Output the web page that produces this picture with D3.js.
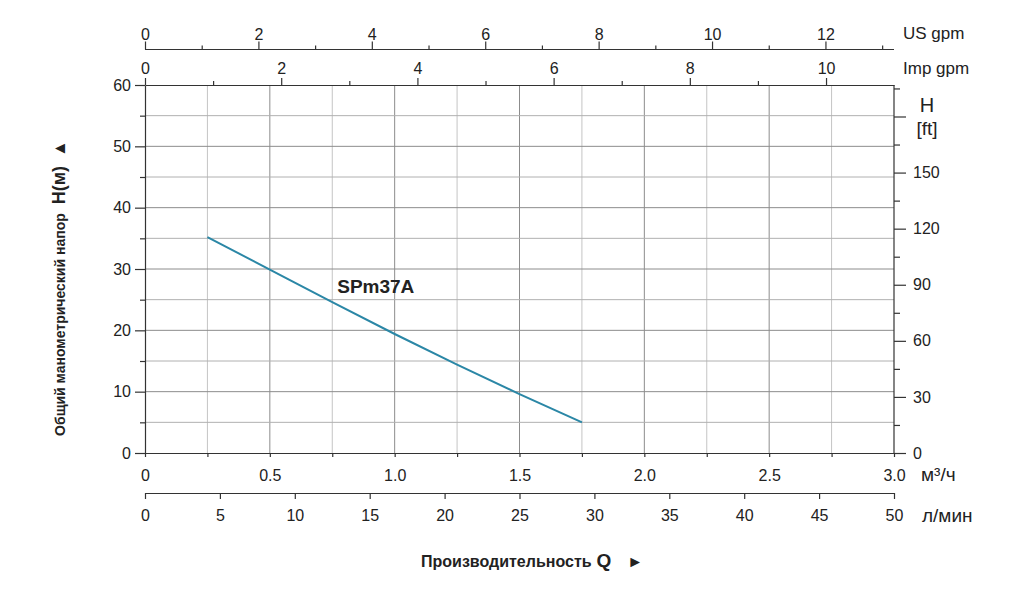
<!DOCTYPE html>
<html>

<head>
  <meta charset="utf-8">
  <script src="https://d3js.org/d3.v7.min.js"></script>
  <style>
    body { margin: 0; background: #fff; }
    text { font-family: "Liberation Sans", Arial, sans-serif; fill: #222; }
  </style>
</head>

<body>
  <svg id="curve" width="1024" height="595"></svg>
  <script>
    // pump curve SPm37A
    const flowM3h = [0.25, 0.5, 0.75, 1.0, 1.25, 1.5, 1.75];
    const headM = [35.2, 29.9, 24.6, 19.4, 14.4, 9.6, 5.0];

    // tick values / labels
    const m3hTicks = [0, 0.5, 1.0, 1.5, 2.0, 2.5, 3.0];
    const m3hLabels = ["0", "0.5", "1.0", "1.5", "2.0", "2.5", "3.0"];
    const m3hMinor = [0.25, 0.75, 1.25, 1.75, 2.25, 2.75];
    const lminTicks = [0, 5, 10, 15, 20, 25, 30, 35, 40, 45, 50];
    const usGpmTicks = [0, 2, 4, 6, 8, 10, 12];
    const usGpmMinor = [1, 3, 5, 7, 9, 11, 13];
    const impGpmTicks = [0, 2, 4, 6, 8, 10];
    const impGpmMinor = [1, 3, 5, 7, 9];
    const headTicks = [0, 10, 20, 30, 40, 50, 60];
    const headMinor = [5, 15, 25, 35, 45, 55];
    const ftTicks = [0, 30, 60, 90, 120, 150, 180];
    const ftLabels = ["0", "30", "60", "90", "120", "150", ""];
    const ftMinor = [15, 45, 75, 105, 135, 165, 195];

    const svg = d3.select('svg#curve');
    const plotLeft = 145, plotRight = 894, plotTop = 85, plotBottom = 453;
    const fontSize = 16;

    const x = d3.scaleLinear().domain([0, 3]).range([plotLeft, plotRight]);
    const y = d3.scaleLinear().domain([0, 60]).range([plotBottom, plotTop]);
    const xLmin = d3.scaleLinear().domain([0, 50]).range([plotLeft, plotRight]);
    const xUS = d3.scaleLinear().domain([0, 3 * 4.403]).range([plotLeft, plotRight]);
    const xImp = d3.scaleLinear().domain([0, 3 * 3.666]).range([plotLeft, plotRight]);
    const yFt = d3.scaleLinear().domain([0, 60 * 3.2808]).range([plotBottom, plotTop]);

    //gridlines
    const grid = svg.append('g');
    grid.selectAll('line.v').data(m3hTicks.concat(m3hMinor).filter(d => d > 0 && d < 3))
      .join('line')
      .attr('x1', d => x(d)).attr('x2', d => x(d))
      .attr('y1', plotTop).attr('y2', plotBottom)
      .attr('stroke', d => (d * 2) % 1 === 0 ? '#8c8c8c' : '#c4c4c4')
      .attr('stroke-width', 1);
    grid.selectAll('line.h').data(headTicks.concat(headMinor).filter(d => d > 0 && d < 60))
      .join('line')
      .attr('x1', plotLeft).attr('x2', plotRight)
      .attr('y1', d => y(d)).attr('y2', d => y(d))
      .attr('stroke', d => d % 10 === 0 ? '#8c8c8c' : '#b0b0b0')
      .attr('stroke-width', 1);

    function styleAxis(g) {
      g.select('.domain').attr('stroke', '#333').attr('stroke-width', 1.2);
      g.selectAll('.tick line').attr('stroke', '#333').attr('stroke-width', 1.2);
      g.selectAll('.tick text')
        .style('font-family', '"Liberation Sans", Arial, sans-serif')
        .style('font-size', fontSize + 'px').attr('fill', '#222');
    }

    // bottom m3/h axis (plot bottom)
    const m3hAxis = d3.axisBottom(x)
      .tickValues(m3hTicks.concat(m3hMinor))
      .tickSize(4).tickSizeOuter(0)
      .tickFormat(d => { const i = m3hTicks.indexOf(d); return i < 0 ? "" : m3hLabels[i]; });
    svg.append('g').attr('transform', `translate(0,${plotBottom})`).call(m3hAxis).call(styleAxis)
      .selectAll('.tick text').attr('y', 17);
    svg.append('text').attr('x', 921).attr('y', 481).style('font-size', '19px').text('м³/ч');

    // bottom l/min axis
    const lminAxis = d3.axisBottom(xLmin).tickValues(lminTicks).tickSize(6).tickSizeOuter(0);
    svg.append('g').attr('transform', 'translate(0,493)').call(lminAxis).call(styleAxis)
      .selectAll('.tick text').attr('y', 17);
    svg.append('text').attr('x', 922).attr('y', 522).style('font-size', '19px').text('л/мин');

    // top US gpm axis
    const usAxis = d3.axisTop(xUS).tickValues(usGpmTicks.concat(usGpmMinor))
      .tickSize(8).tickSizeOuter(0)
      .tickFormat(d => usGpmTicks.includes(d) ? d : "");
    const usG = svg.append('g').attr('transform', 'translate(0,49.5)').call(usAxis).call(styleAxis);
    usG.selectAll('.tick line').attr('y2', d => usGpmTicks.includes(d) ? -8 : -4);
    usG.selectAll('.tick text').attr('y', -10);
    usG.select('.domain').attr('d', `M${plotLeft},0H${plotRight}`);
    svg.append('text').attr('x', 903).attr('y', 39).style('font-size', '17px').text('US gpm');

    // top Imp gpm axis (plot top)
    const impAxis = d3.axisTop(xImp).tickValues(impGpmTicks.concat(impGpmMinor))
      .tickSize(7).tickSizeOuter(0)
      .tickFormat(d => impGpmTicks.includes(d) ? d : "");
    const impG = svg.append('g').attr('transform', `translate(0,${plotTop})`).call(impAxis).call(styleAxis);
    impG.selectAll('.tick line').attr('y2', d => impGpmTicks.includes(d) ? -7 : -4);
    impG.selectAll('.tick text').attr('y', -11);
    svg.append('text').attr('x', 903).attr('y', 74).style('font-size', '17px').text('Imp gpm');

    // left axis H(m)
    const headAxis = d3.axisLeft(y).tickValues(headTicks.concat(headMinor))
      .tickSize(10).tickSizeOuter(0)
      .tickFormat(d => headTicks.includes(d) ? d : "");
    const hG = svg.append('g').attr('transform', `translate(${plotLeft},0)`).call(headAxis).call(styleAxis);
    hG.selectAll('.tick line').attr('x2', d => headTicks.includes(d) ? -10 : -5);
    hG.selectAll('.tick text').attr('x', -14);

    // right axis H(ft)
    const ftAxis = d3.axisRight(yFt).tickValues(ftTicks.concat(ftMinor))
      .tickSize(12).tickSizeOuter(0)
      .tickFormat(d => { const i = ftTicks.indexOf(d); return i < 0 ? "" : ftLabels[i]; });
    const fG = svg.append('g').attr('transform', `translate(${plotRight},0)`).call(ftAxis).call(styleAxis);
    fG.selectAll('.tick line').attr('x2', d => ftTicks.includes(d) ? 12 : 6);
    fG.selectAll('.tick text').attr('x', 19);
    fG.select('.domain').attr('d', `M0,${plotTop}V${plotBottom}`);
    svg.append('text').attr('x', 927).attr('y', 112).attr('text-anchor', 'middle')
      .style('font-size', '20px').text('H');
    svg.append('text').attr('x', 927).attr('y', 135).attr('text-anchor', 'middle')
      .style('font-size', '19px').text('[ft]');

    //curve
    const line = d3.line().x((d, i) => x(flowM3h[i])).y(d => y(d)).curve(d3.curveMonotoneX);
    svg.append('path').datum(headM)
      .attr('d', line)
      .attr('fill', 'none')
      .attr('stroke', '#2b87a6')
      .attr('stroke-width', 2);
    svg.append('text').attr('x', x(0.77)).attr('y', y(26.1))
      .style('font-size', '19px').style('font-weight', 'bold').attr('fill', '#111')
      .text('SPm37A');

    // axis titles
    const ytitle = svg.append('text')
      .attr('transform', 'rotate(-90)')
      .attr('x', -288).attr('y', 65)
      .attr('text-anchor', 'middle')
      .style('font-weight', 'bold').attr('fill', '#111');
    ytitle.append('tspan').style('font-size', '14px').text('Общий манометрический напор');
    ytitle.append('tspan').attr('dx', 9).style('font-size', '18px').text('H(м)');
    ytitle.append('tspan').attr('dx', 9).style('font-size', '17px').text('▲');

    const xtitle = svg.append('text')
      .attr('x', 421).attr('y', 567)
      .style('font-weight', 'bold').attr('fill', '#111');
    xtitle.append('tspan').style('font-size', '16px').text('Производительность');
    xtitle.append('tspan').attr('dx', 5).style('font-size', '19px').text('Q');
    xtitle.append('tspan').attr('dx', 16).style('font-size', '16px').text('►');
  </script>
</body>

</html>
